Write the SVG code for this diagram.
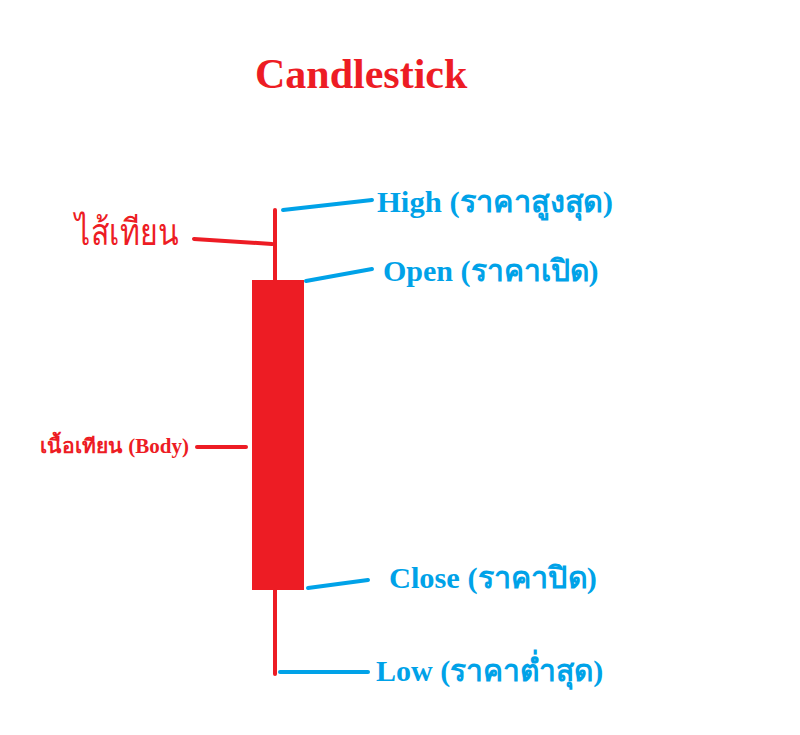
<svg xmlns="http://www.w3.org/2000/svg" width="800" height="735" viewBox="0 0 800 735">
<style>
.red{fill:#ED1C24}
.blue{fill:#00A2E8}
.t{font-family:"Liberation Serif","Noto Sans",serif;font-weight:bold}
.bl{stroke:#00A2E8;stroke-width:4;stroke-linecap:round;fill:none}
.rl{stroke:#ED1C24;stroke-width:4;stroke-linecap:round;fill:none}
</style>
<rect width="800" height="735" fill="#fff"/>
<text class="t red" x="255" y="88" font-size="42">Candlestick</text>
<g id="candle">
<line class="rl" x1="275" y1="210" x2="275" y2="674"/>
<rect x="252" y="280" width="52" height="310" fill="#ED1C24"/>
</g>
<g id="connectors">
<line class="bl" x1="283" y1="210" x2="372" y2="200"/>
<line class="bl" x1="306" y1="281" x2="372" y2="269"/>
<line class="bl" x1="308" y1="588" x2="368" y2="580"/>
<line class="bl" x1="280" y1="672" x2="368" y2="672"/>
<line class="rl" x1="194" y1="239" x2="272" y2="244"/>
<line class="rl" x1="197" y1="447" x2="246" y2="447"/>
</g>
<g id="high"><text class="t blue" x="377" y="212" font-size="30" textLength="236" lengthAdjust="spacingAndGlyphs">High (ราคาสูงสุด)</text></g>
<g id="open"><text class="t blue" x="383" y="281" font-size="30">Open (ราคาเปิด)</text></g>
<g id="close"><text class="t blue" x="389" y="588" font-size="30" textLength="208" lengthAdjust="spacingAndGlyphs">Close (ราคาปิด)</text></g>
<g id="low"><text class="t blue" x="376" y="681" font-size="30">Low (ราคาต่ำสุด)</text></g>
<g id="wick"><text class="red" x="75" y="245" font-size="37" textLength="103" lengthAdjust="spacingAndGlyphs" font-family="'Liberation Serif','Noto Sans',serif">ไส้เทียน</text></g>
<g id="body"><text class="t red" x="40" y="453" font-size="20" textLength="149" lengthAdjust="spacingAndGlyphs">เนื้อเทียน (Body)</text></g>
</svg>
